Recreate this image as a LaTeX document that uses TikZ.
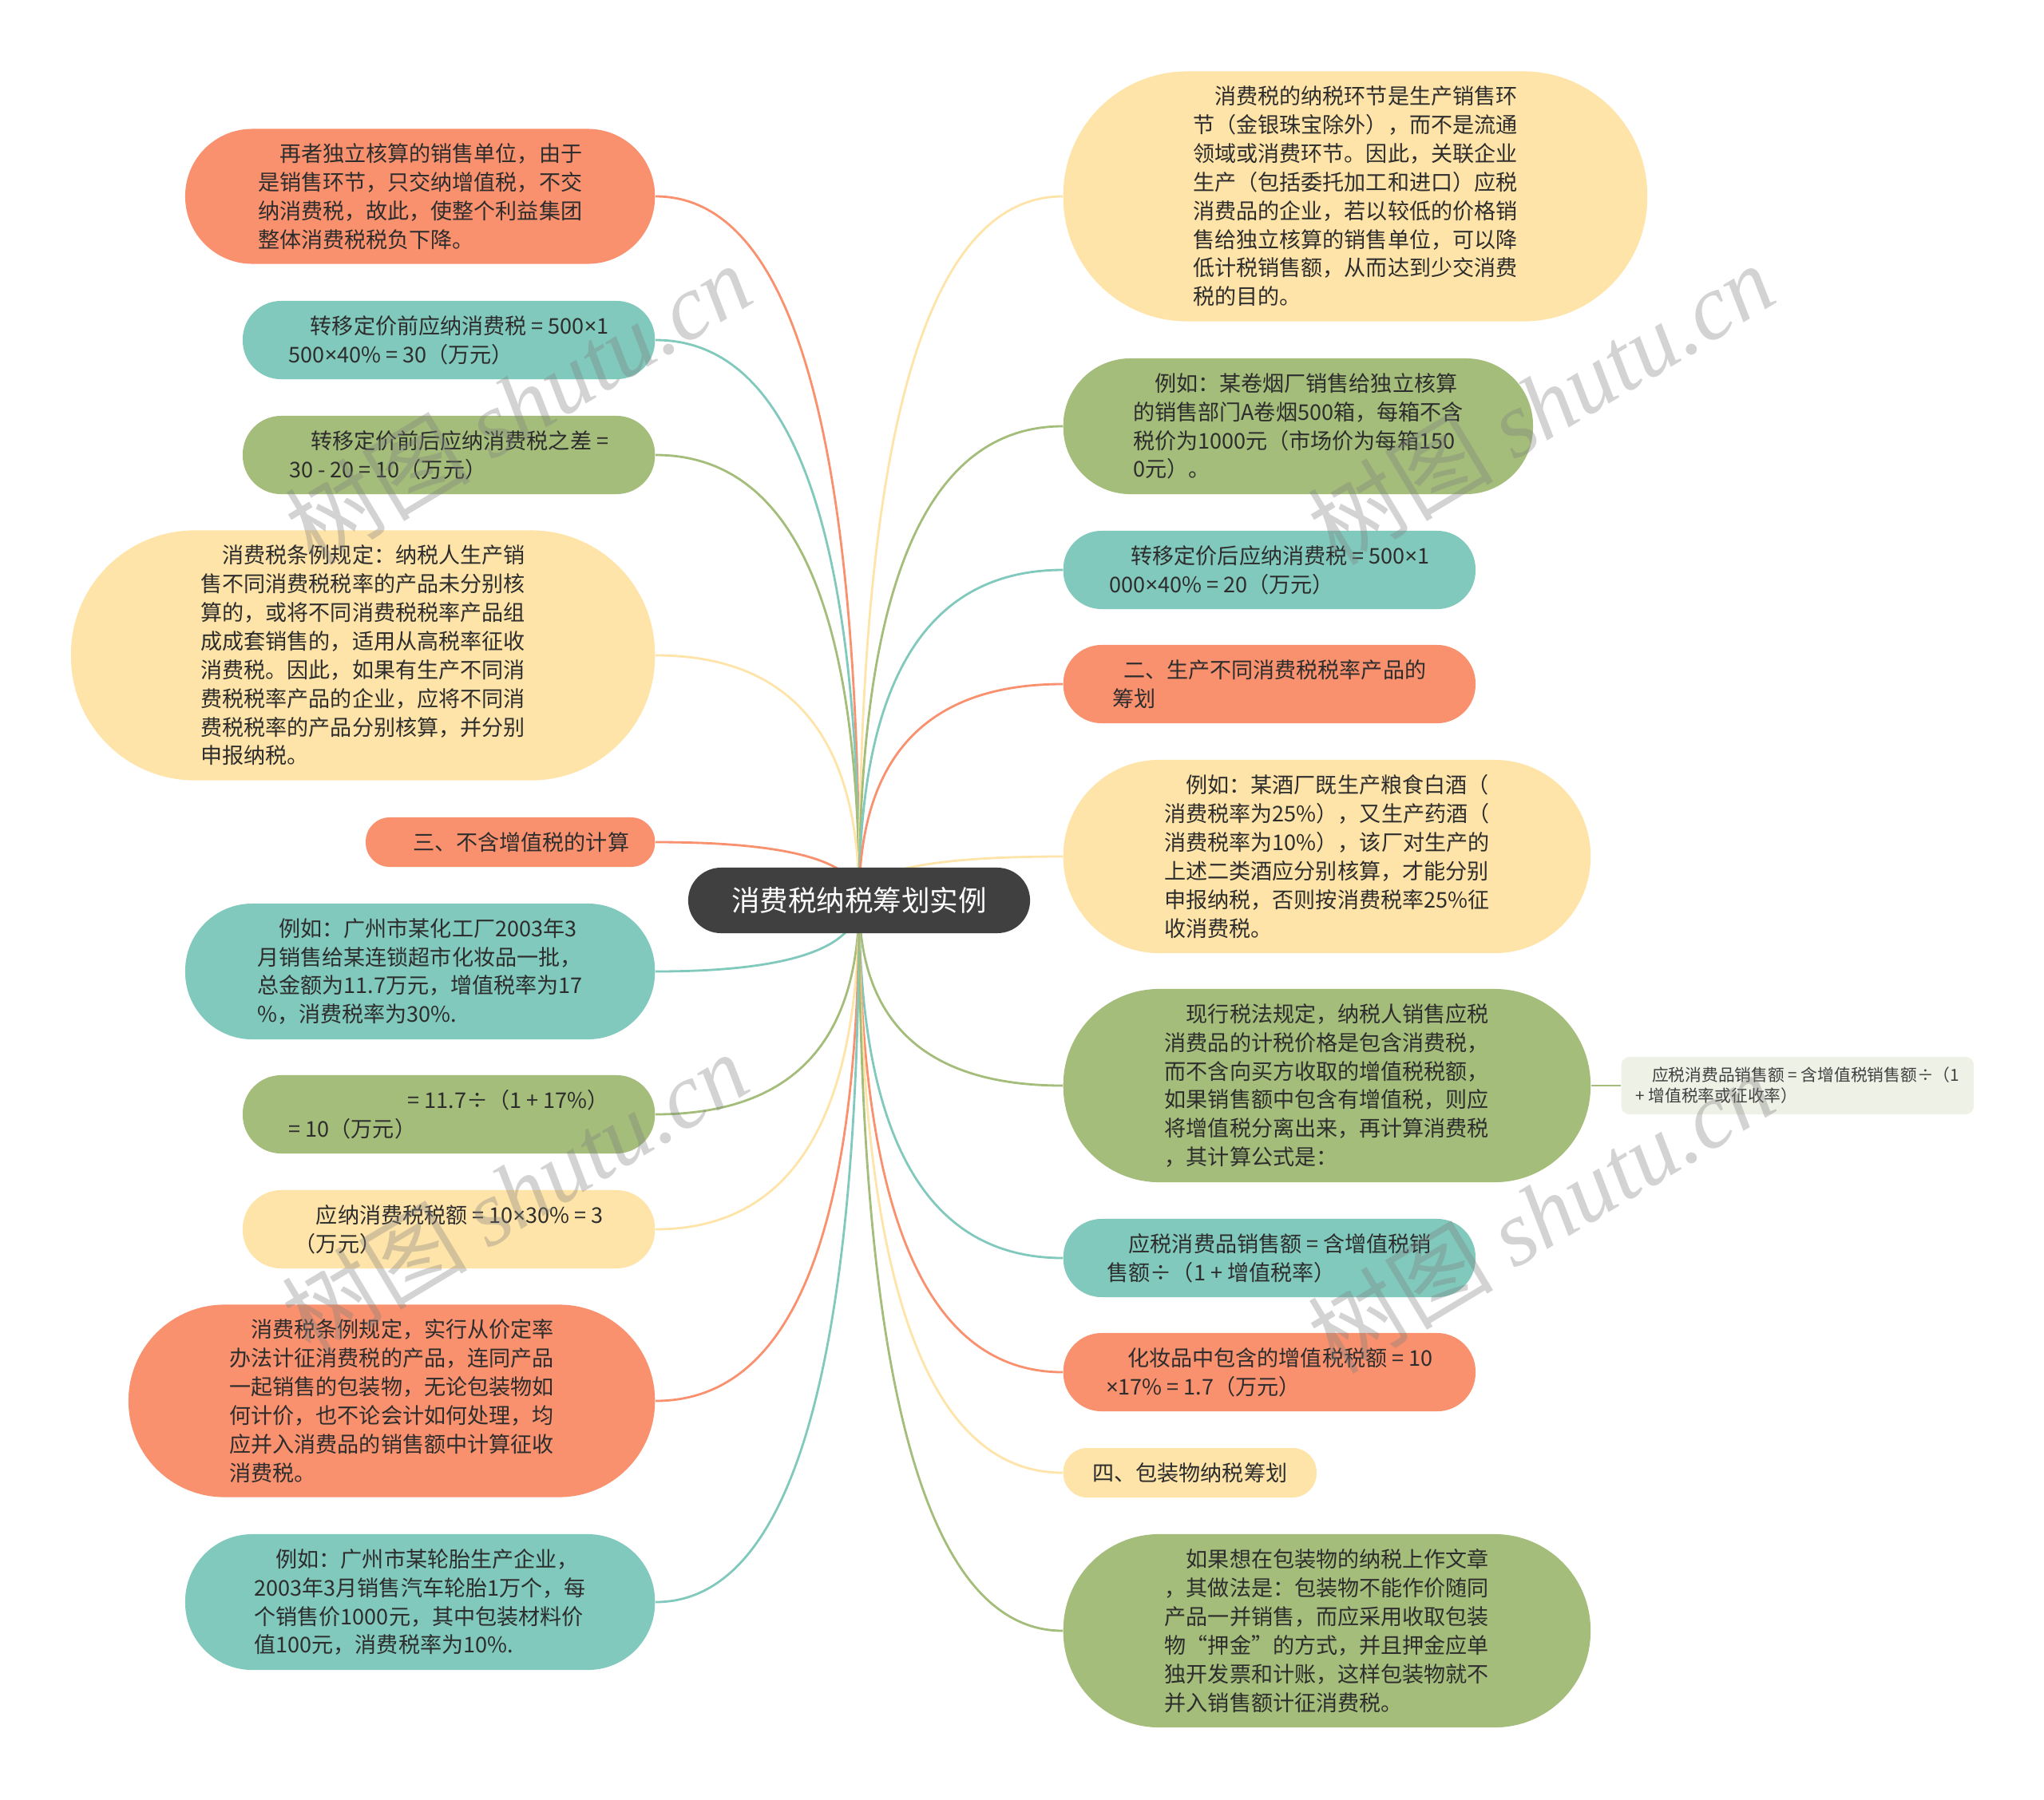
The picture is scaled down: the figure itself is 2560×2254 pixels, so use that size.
\documentclass[tikz,border=0pt]{standalone}
\usepackage{fontspec}
\setmainfont{Noto Sans CJK SC}
\newfontfamily\wmlatin{Liberation Serif}
\newfontfamily\narrowsym{Noto Sans}
\newcommand{\mul}{{\narrowsym ×}}
\usetikzlibrary{calc,backgrounds}

\definecolor{corange}{RGB}{249,145,111}
\definecolor{cteal}{RGB}{128,201,188}
\definecolor{cgreen}{RGB}{164,189,122}
\definecolor{cyellow}{RGB}{254,228,168}
\definecolor{croot}{RGB}{64,64,64}
\definecolor{cpale}{RGB}{238,241,230}
\definecolor{ctext}{RGB}{45,45,45}

\tikzset{
  bubble/.style={align=left, text=ctext, inner sep=0pt,
    font=\fontsize{7.7}{10.2}\selectfont},
  lbox/.style={bubble, anchor=east},
  rbox/.style={bubble, anchor=west},
  link/.style={line width=0.8pt},
  mark wm/.style={text=gray, opacity=0.35, rotate=31,
    font=\fontsize{33}{33}\selectfont}
}

\begin{document}
\begin{tikzpicture}[x=0.01cm, y=-0.01cm]
  \useasboundingbox (0,0) rectangle (2560,2254);

  % root
  \node[fill=croot, text=white, minimum width=4.28cm, minimum height=0.82cm,
        rounded corners=0.41cm, font=\fontsize{10.1}{12}\selectfont]
        (root) at (1076,1128) {消费税纳税筹划实例};

  % left side
  \node[lbox, fill=corange, minimum width=5.88cm, minimum height=1.69cm, rounded corners=0.84cm]
    (l1) at (821,246) {\hspace*{1em}再者独立核算的销售单位，由于\\是销售环节，只交纳增值税，不交\\纳消费税，故此，使整个利益集团\\整体消费税税负下降。};
  \node[lbox, fill=cteal, minimum width=5.16cm, minimum height=0.98cm, rounded corners=0.48cm]
    (l2) at (821,426) {\hspace*{1em}转移定价前应纳消费税 = 500\mul 1\\500\mul 40\% = 30（万元）};
  \node[lbox, fill=cgreen, minimum width=5.16cm, minimum height=0.98cm, rounded corners=0.48cm]
    (l3) at (821,570) {\hspace*{1em}转移定价前后应纳消费税之差 =\\30 - 20 = 10（万元）};
  \node[lbox, fill=cyellow, minimum width=7.31cm, minimum height=3.13cm, rounded corners=1.55cm]
    (l4) at (821,821) {\hspace*{1em}消费税条例规定：纳税人生产销\\售不同消费税税率的产品未分别核\\算的，或将不同消费税税率产品组\\成成套销售的，适用从高税率征收\\消费税。因此，如果有生产不同消\\费税税率产品的企业，应将不同消\\费税税率的产品分别核算，并分别\\申报纳税。};
  \node[lbox, fill=corange, minimum width=3.62cm, minimum height=0.62cm, rounded corners=0.3cm]
    (l5) at (821,1055) {\hspace*{1em}三、不含增值税的计算};
  \node[lbox, fill=cteal, minimum width=5.88cm, minimum height=1.70cm, rounded corners=0.84cm]
    (l6) at (821,1217) {\hspace*{1em}例如：广州市某化工厂2003年3\\月销售给某连锁超市化妆品一批，\\总金额为11.7万元，增值税率为17\\\%，消费税率为30\%.};
  \node[lbox, fill=cgreen, minimum width=5.16cm, minimum height=0.98cm, rounded corners=0.48cm]
    (l7) at (821,1396) {\hspace*{5.5em}= 11.7÷（1 + 17\%）\\= 10（万元）};
  \node[lbox, fill=cyellow, minimum width=5.16cm, minimum height=0.98cm, rounded corners=0.48cm]
    (l8) at (821,1540) {\hspace*{1em}应纳消费税税额 = 10\mul 30\% = 3\\（万元）};
  \node[lbox, fill=corange, minimum width=6.59cm, minimum height=2.41cm, rounded corners=1.2cm]
    (l9) at (821,1755) {\hspace*{1em}消费税条例规定，实行从价定率\\办法计征消费税的产品，连同产品\\一起销售的包装物，无论包装物如\\何计价，也不论会计如何处理，均\\应并入消费品的销售额中计算征收\\消费税。};
  \node[lbox, fill=cteal, minimum width=5.88cm, minimum height=1.70cm, rounded corners=0.84cm]
    (l10) at (821,2007) {\hspace*{1em}例如：广州市某轮胎生产企业，\\2003年3月销售汽车轮胎1万个，每\\个销售价1000元，其中包装材料价\\值100元，消费税率为10\%.};

  % right side
  \node[rbox, fill=cyellow, minimum width=7.31cm, minimum height=3.13cm, rounded corners=1.55cm]
    (r1) at (1331,246) {\hspace*{1em}消费税的纳税环节是生产销售环\\节（金银珠宝除外），而不是流通\\领域或消费环节。因此，关联企业\\生产（包括委托加工和进口）应税\\消费品的企业，若以较低的价格销\\售给独立核算的销售单位，可以降\\低计税销售额，从而达到少交消费\\税的目的。};
  \node[rbox, fill=cgreen, minimum width=5.88cm, minimum height=1.70cm, rounded corners=0.84cm]
    (r2) at (1331,534) {\hspace*{1em}例如：某卷烟厂销售给独立核算\\的销售部门A卷烟500箱，每箱不含\\税价为1000元（市场价为每箱150\\0元）。};
  \node[rbox, fill=cteal, minimum width=5.16cm, minimum height=0.98cm, rounded corners=0.48cm]
    (r3) at (1331,714) {\hspace*{1em}转移定价后应纳消费税 = 500\mul 1\\000\mul 40\% = 20（万元）};
  \node[rbox, fill=corange, minimum width=5.16cm, minimum height=0.98cm, rounded corners=0.48cm]
    (r4) at (1331,857) {\hspace*{0.5em}二、生产不同消费税税率产品的\\筹划\hspace*{9em}};
  \node[rbox, fill=cyellow, minimum width=6.60cm, minimum height=2.42cm, rounded corners=1.2cm]
    (r5) at (1331,1073) {\hspace*{1em}例如：某酒厂既生产粮食白酒（\\消费税率为25\%），又生产药酒（\\消费税率为10\%），该厂对生产的\\上述二类酒应分别核算，才能分别\\申报纳税，否则按消费税率25\%征\\收消费税。};
  \node[rbox, fill=cgreen, minimum width=6.60cm, minimum height=2.42cm, rounded corners=1.2cm]
    (r6) at (1331,1360) {\hspace*{1em}现行税法规定，纳税人销售应税\\消费品的计税价格是包含消费税，\\而不含向买方收取的增值税税额，\\如果销售额中包含有增值税，则应\\将增值税分离出来，再计算消费税\\，其计算公式是：};
  \node[rbox, fill=cpale, text=black!75, minimum width=4.41cm, minimum height=0.72cm,
        rounded corners=0.1cm, font=\fontsize{5.9}{7.4}\selectfont]
    (r6a) at (2030,1360) {\hspace*{1em}应税消费品销售额 = 含增值税销售额÷（1\\+ 增值税率或征收率）};
  \node[rbox, fill=cteal, minimum width=5.16cm, minimum height=0.98cm, rounded corners=0.48cm]
    (r7) at (1331,1576) {\hspace*{1em}应税消费品销售额 = 含增值税销\\售额÷（1 + 增值税率）};
  \node[rbox, fill=corange, minimum width=5.16cm, minimum height=0.98cm, rounded corners=0.48cm]
    (r8) at (1331,1719) {\hspace*{1em}化妆品中包含的增值税税额 = 10\\\mul 17\% = 1.7（万元）};
  \node[rbox, fill=cyellow, minimum width=3.17cm, minimum height=0.62cm, rounded corners=0.3cm]
    (r9) at (1331,1845) {四、包装物纳税筹划};
  \node[rbox, fill=cgreen, minimum width=6.60cm, minimum height=2.42cm, rounded corners=1.2cm]
    (r10) at (1331,2043) {\hspace*{1em}如果想在包装物的纳税上作文章\\，其做法是：包装物不能作价随同\\产品一并销售，而应采用收取包装\\物“押金”的方式，并且押金应单\\独开发票和计账，这样包装物就不\\并入销售额计征消费税。};

  % branches
  \begin{scope}[on background layer]
    \draw[link, corange] (root.center) .. controls ($(root.center)!.667!(root.center |- l1.east)$) and ($(l1.east)!.667!(root.center |- l1.east)$) .. (l1.east);
    \draw[link, cteal] (root.center) .. controls ($(root.center)!.667!(root.center |- l2.east)$) and ($(l2.east)!.667!(root.center |- l2.east)$) .. (l2.east);
    \draw[link, cgreen] (root.center) .. controls ($(root.center)!.667!(root.center |- l3.east)$) and ($(l3.east)!.667!(root.center |- l3.east)$) .. (l3.east);
    \draw[link, cyellow] (root.center) .. controls ($(root.center)!.667!(root.center |- l4.east)$) and ($(l4.east)!.667!(root.center |- l4.east)$) .. (l4.east);
    \draw[link, corange] (root.center) .. controls ($(root.center)!.667!(root.center |- l5.east)$) and ($(l5.east)!.667!(root.center |- l5.east)$) .. (l5.east);
    \draw[link, cteal] (root.center) .. controls ($(root.center)!.667!(root.center |- l6.east)$) and ($(l6.east)!.667!(root.center |- l6.east)$) .. (l6.east);
    \draw[link, cgreen] (root.center) .. controls ($(root.center)!.667!(root.center |- l7.east)$) and ($(l7.east)!.667!(root.center |- l7.east)$) .. (l7.east);
    \draw[link, cyellow] (root.center) .. controls ($(root.center)!.667!(root.center |- l8.east)$) and ($(l8.east)!.667!(root.center |- l8.east)$) .. (l8.east);
    \draw[link, corange] (root.center) .. controls ($(root.center)!.667!(root.center |- l9.east)$) and ($(l9.east)!.667!(root.center |- l9.east)$) .. (l9.east);
    \draw[link, cteal] (root.center) .. controls ($(root.center)!.667!(root.center |- l10.east)$) and ($(l10.east)!.667!(root.center |- l10.east)$) .. (l10.east);
    \draw[link, cyellow] (root.center) .. controls ($(root.center)!.667!(root.center |- r1.west)$) and ($(r1.west)!.667!(root.center |- r1.west)$) .. (r1.west);
    \draw[link, cgreen] (root.center) .. controls ($(root.center)!.667!(root.center |- r2.west)$) and ($(r2.west)!.667!(root.center |- r2.west)$) .. (r2.west);
    \draw[link, cteal] (root.center) .. controls ($(root.center)!.667!(root.center |- r3.west)$) and ($(r3.west)!.667!(root.center |- r3.west)$) .. (r3.west);
    \draw[link, corange] (root.center) .. controls ($(root.center)!.667!(root.center |- r4.west)$) and ($(r4.west)!.667!(root.center |- r4.west)$) .. (r4.west);
    \draw[link, cyellow] (root.center) .. controls ($(root.center)!.667!(root.center |- r5.west)$) and ($(r5.west)!.667!(root.center |- r5.west)$) .. (r5.west);
    \draw[link, cgreen] (root.center) .. controls ($(root.center)!.667!(root.center |- r6.west)$) and ($(r6.west)!.667!(root.center |- r6.west)$) .. (r6.west);
    \draw[link, cteal] (root.center) .. controls ($(root.center)!.667!(root.center |- r7.west)$) and ($(r7.west)!.667!(root.center |- r7.west)$) .. (r7.west);
    \draw[link, corange] (root.center) .. controls ($(root.center)!.667!(root.center |- r8.west)$) and ($(r8.west)!.667!(root.center |- r8.west)$) .. (r8.west);
    \draw[link, cyellow] (root.center) .. controls ($(root.center)!.667!(root.center |- r9.west)$) and ($(r9.west)!.667!(root.center |- r9.west)$) .. (r9.west);
    \draw[link, cgreen] (root.center) .. controls ($(root.center)!.667!(root.center |- r10.west)$) and ($(r10.west)!.667!(root.center |- r10.west)$) .. (r10.west);
    \draw[link, cgreen] (r6.east) -- (r6a.west);
  \end{scope}

  % watermark
  \node[mark wm] (wm1) at (649,506) {树图 {\wmlatin\itshape shutu.cn}};
  \node[mark wm] (wm2) at (645,1494) {树图 {\wmlatin\itshape shutu.cn}};
  \node[mark wm] (wm3) at (1930,506) {树图 {\wmlatin\itshape shutu.cn}};
  \node[mark wm] (wm4) at (1930,1519) {树图 {\wmlatin\itshape shutu.cn}};
\end{tikzpicture}
\end{document}
